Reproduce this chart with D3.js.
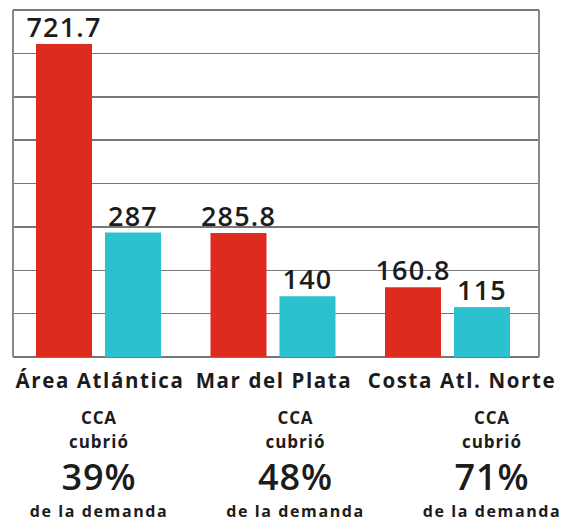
<!DOCTYPE html>
<html>
<head>
    <meta charset='utf-8'>
    <script src='https://d3js.org/d3.v7.min.js'></script>
</head>
<body>
<style>
    body {
        margin: 0;
        background: #fff;
        font-family: "Open Sans", "Noto Sans", sans-serif;
    }
    .grid line {
        stroke: #777;
        stroke-width: 1.5;
        shape-rendering: crispEdges;
    }
    .frame {
        fill: none;
        stroke: #888;
        stroke-width: 2;
    }
    text {
        fill: #1c1c1c;
        font-weight: 700;
        text-anchor: middle;
    }
    .valor, .pct {
        font-weight: 600;
    }
</style>
<div id='chart'></div>
<script>
    // datos
    var regiones = ['Área Atlántica', 'Mar del Plata', 'Costa Atl. Norte'];
    var series = ['demanda', 'cca'];
    var demanda = [721.7, 285.8, 160.8];
    var cca = [287, 140, 115];
    var cubrio = ['39%', '48%', '71%'];
    var colores = ['#dd2c1e', '#2cc1cf'];

    var width = 563, height = 522;
    var plot = { left: 13, right: 539, top: 10, bottom: 357 };

    var svg = d3.select('#chart').append('svg')
        .attr('width', width)
        .attr('height', height);

    var y = d3.scaleLinear()
        .domain([0, 800])
        .range([plot.bottom, plot.top]);

    var x0 = d3.scaleBand()
        .domain(regiones)
        .range([36, 510])
        .paddingInner(0.2837);

    var x1 = d3.scaleBand()
        .domain(series)
        .range([0, x0.bandwidth()])
        .paddingInner(0.188);

    var color = d3.scaleOrdinal().domain(series).range(colores);

    // columnas para las etiquetas y los textos de abajo
    var xEtiq = d3.scaleOrdinal()
        .domain(regiones)
        .range([100, 274, 462]);
    var xNota = d3.scalePoint()
        .domain(regiones)
        .range([99, 492]);

    // grilla
    svg.append('g')
        .attr('class', 'grid')
        .selectAll('line')
        .data(y.ticks(8))
        .enter().append('line')
        .attr('x1', plot.left)
        .attr('x2', plot.right)
        .attr('y1', d => y(d))
        .attr('y2', d => y(d));

    svg.append('path')
        .attr('class', 'frame')
        .attr('d', 'M' + plot.left + ',' + y(800) + 'V' + y(0) +
            'M' + plot.right + ',' + y(800) + 'V' + y(0));

    var datos = regiones.map((r, i) => ({
        region: r,
        valores: [
            { serie: 'demanda', v: demanda[i] },
            { serie: 'cca', v: cca[i] }
        ]
    }));

    var grupo = svg.selectAll('.grupo')
        .data(datos)
        .enter().append('g')
        .attr('class', 'grupo')
        .attr('transform', d => 'translate(' + x0(d.region) + ',0)');

    grupo.selectAll('rect')
        .data(d => d.valores)
        .enter().append('rect')
        .attr('x', d => x1(d.serie))
        .attr('width', x1.bandwidth())
        .attr('y', d => y(d.v))
        .attr('height', d => y(0) - y(d.v))
        .attr('fill', d => color(d.serie));

    grupo.selectAll('.valor')
        .data(d => d.valores)
        .enter().append('text')
        .attr('class', 'valor')
        .attr('x', d => x1(d.serie) + x1.bandwidth() / 2)
        .attr('y', d => y(d.v) - 7)
        .style('font-size', '27px')
        .style('letter-spacing', '1.2px')
        .text(d => d.v);

    // etiquetas de region
    svg.selectAll('.region')
        .data(regiones)
        .enter().append('text')
        .attr('class', 'region')
        .attr('x', d => xEtiq(d))
        .attr('y', 388)
        .style('font-size', '20.5px')
        .style('letter-spacing', '1.6px')
        .text(d => d);

    var nota = svg.selectAll('.nota')
        .data(regiones)
        .enter().append('g')
        .attr('class', 'nota')
        .attr('transform', d => 'translate(' + xNota(d) + ',0)');

    nota.append('text').attr('y', 424)
        .style('font-size', '17px').style('letter-spacing', '0.8px')
        .text('CCA');
    nota.append('text').attr('y', 448)
        .style('font-size', '17px').style('letter-spacing', '1px')
        .text('cubrió');
    nota.append('text').attr('class', 'pct').attr('y', 490)
        .style('font-size', '36px').style('letter-spacing', '1px')
        .text((d, i) => cubrio[i]);
    nota.append('text').attr('y', 517)
        .style('font-size', '16px').style('letter-spacing', '1.6px')
        .text('de la demanda');
</script>
</body>
</html>
